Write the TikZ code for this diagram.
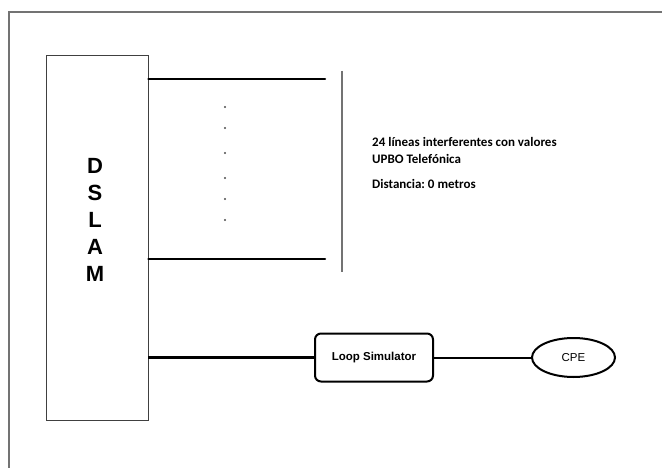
\documentclass[tikz,border=0pt]{standalone}
\usepackage{fontspec}
\setmainfont{Liberation Sans}
\newfontfamily\calib{Carlito}
\usetikzlibrary{shapes.geometric}
\frenchspacing
\begin{document}
\begin{tikzpicture}[x=1pt,y=-1pt,
  thickline/.style={line width=2.5pt,line cap=round},
  grayline/.style={draw=black!55,line width=1.4pt},
  dot/.style={circle,fill=black!70,inner sep=0pt,minimum size=2.2pt},
  note/.style={anchor=base west,inner sep=0pt,font=\calib\bfseries\fontsize{13}{15}\selectfont}]
\useasboundingbox (0,0) rectangle (662,468);
\fill[white] (0,0) rectangle (662,468);
% outer frame (only top and left visible)
\coordinate (fbl) at (9,468);
\coordinate (ftl) at (9,12);
\coordinate (ftr) at (662,12);
\draw[draw=black!55,line width=1.6pt] (fbl) -- (ftl) -- (ftr);
% DSLAM
\node[draw=black!75,line width=0.9pt,minimum width=102pt,minimum height=365pt,inner sep=0pt] (dslam) at (97,237.5) {};
\node[align=center,inner sep=0pt,font=\bfseries\fontsize{22}{27}\selectfont] (dslamtxt) at (95,220) {D\\S\\L\\A\\M};
% interfering lines
\coordinate (l1e) at (325,79);
\coordinate (l2e) at (325,259);
\draw[thickline] (dslam.east |- l1e) -- (l1e);
\draw[thickline] (dslam.east |- l2e) -- (l2e);
\coordinate (vt) at (342,71);
\coordinate (vb) at (342,272);
\draw[grayline] (vt) -- (vb);
\foreach \i/\yy in {1/107,2/128,3/153,4/178,5/199,6/220}
  \node[dot] (d\i) at (225,\yy) {};
% notes
\node[note] (n1) at (372,147) {24 líneas interferentes con valores};
\node[note] (n2) at (372,163.5) {UPBO Telefónica};
\node[note] (n3) at (372,189) {Distancia: 0 metros};
% loop simulator and CPE
\node[draw,line width=2pt,rounded corners=6pt,minimum width=118pt,minimum height=48pt,inner sep=0pt,font=\bfseries\fontsize{11.5}{13}\selectfont] (loop) at (374,357.5) {Loop Simulator};
\node[draw,ellipse,line width=2pt,minimum width=83pt,minimum height=39pt,inner sep=0pt,font=\fontsize{11.5}{13}\selectfont] (cpe) at (573.5,357.5) {CPE};
\draw[thickline,line cap=butt] (dslam.east |- loop.west) -- (loop.west);
\draw[line width=2pt] (loop.east) -- (cpe.west);
\end{tikzpicture}
\end{document}
